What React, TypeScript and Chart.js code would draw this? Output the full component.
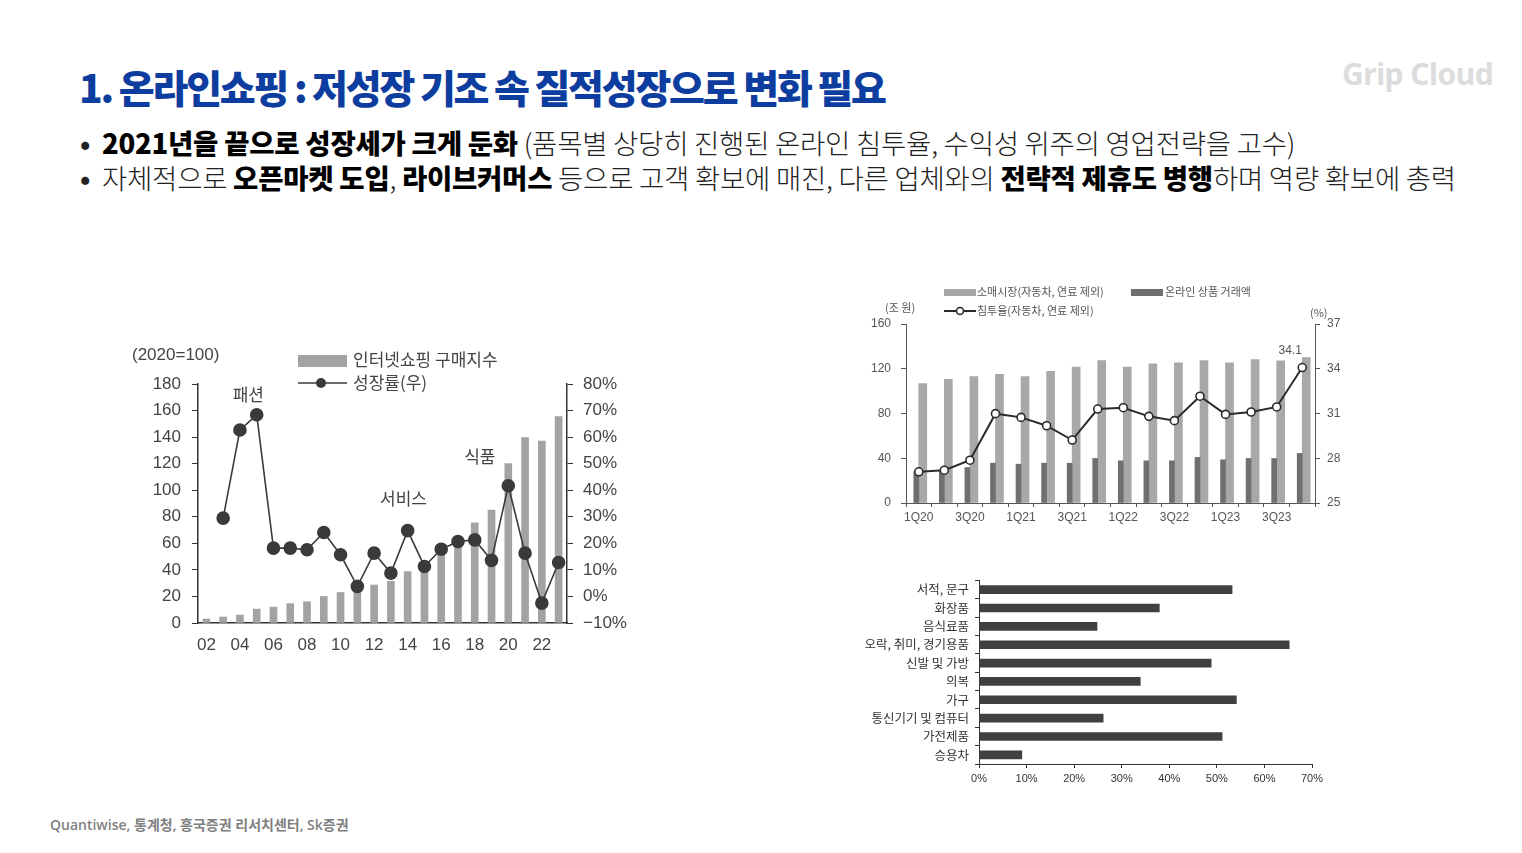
import React, { useEffect, useRef } from "react";
import { Chart, registerables } from "chart.js";
Chart.register(...registerables);

const NUM_FONT = "'Liberation Sans', 'Noto Sans CJK KR', sans-serif";
const KR_FONT = "'Noto Sans CJK KR', 'Liberation Sans', sans-serif";

// ---------- Chart 1: 인터넷쇼핑 구매지수 ----------
const yearLabels = ["02", "03", "04", "05", "06", "07", "08", "09", "10", "11", "12", "13", "14", "15", "16", "17", "18", "19", "20", "21", "22", "23"];
const shoppingIndex = [3, 4.5, 6, 10.5, 12, 14.6, 16, 20, 23, 25, 28.6, 31.4, 38.7, 42, 52, 61, 75.4, 85, 120, 139.7, 137, 155.5];
const shoppingGrowth = [null, 29.5, 62.7, 68.4, 18.2, 18.2, 17.6, 24.1, 15.7, 3.8, 16.3, 8.8, 24.8, 11.3, 17.8, 20.7, 21.3, 13.6, 41.7, 16.3, -2.5, 12.8];
const chart1Legend = ["인터넷쇼핑 구매지수", "성장률(우)"];
const chart1Unit = "(2020=100)";
const chart1Notes = ["패션", "서비스", "식품"];
const chart1NoteIdx = [2.5, 11.75, 16.3];
const chart1NoteVal = [172, 94, 125];

// ---------- Chart 2: 분기별 소매시장 / 온라인 ----------
const quarterLabels = ["1Q20", "2Q20", "3Q20", "4Q20", "1Q21", "2Q21", "3Q21", "4Q21", "1Q22", "2Q22", "3Q22", "4Q22", "1Q23", "2Q23", "3Q23", "4Q23"];
const retailMarket = [106.8, 110.6, 113, 115, 113, 117.8, 121.4, 127.4, 121.4, 124.4, 125.3, 127.4, 125.3, 128.3, 127, 130];
const onlineSales = [28, 29, 31.7, 35.6, 34.7, 35.6, 35.6, 39.8, 37.7, 37.7, 37.7, 40.7, 38.6, 39.8, 39.8, 44.3];
const penetration = [27.09, 27.2, 27.87, 30.99, 30.74, 30.18, 29.22, 31.3, 31.39, 30.81, 30.52, 32.16, 30.94, 31.1, 31.44, 34.08];
const chart2Legend = ["소매시장(자동차, 연료 제외)", "온라인 상품 거래액", "침투율(자동차, 연료 제외)"];
const chart2Units = ["(조 원)", "(%)"];
const chart2LastLabel = "34.1";

// ---------- Chart 3: 품목별 온라인 침투율 ----------
const itemLabels = ["서적, 문구", "화장품", "음식료품", "오락, 취미, 경기용품", "신발 및 가방", "의복", "가구", "통신기기 및 컴퓨터", "가전제품", "승용차"];
const itemPenetration = [53.2, 37.9, 24.8, 65.2, 48.8, 33.9, 54.1, 26.1, 51.1, 9.0];

function useChart(ref: React.RefObject<HTMLCanvasElement | null>, make: () => any) {
  useEffect(() => {
    if (!ref.current) return;
    const chart = new Chart(ref.current, make());
    return () => chart.destroy();
  }, []);
}

function ChartOne() {
  const ref = useRef<HTMLCanvasElement>(null);
  useChart(ref, () => ({
    type: "bar",
    data: {
      labels: yearLabels,
      datasets: [
        {
          type: "line",
          data: shoppingGrowth,
          yAxisID: "y1",
          borderColor: "#3a3a3a",
          borderWidth: 1.6,
          pointRadius: 6,
          pointBackgroundColor: "#3a3a3a",
          pointBorderColor: "#3a3a3a",
          tension: 0,
          order: 0,
        },
        {
          type: "bar",
          data: shoppingIndex,
          yAxisID: "y",
          backgroundColor: "#a3a3a3",
          barThickness: 7,
          order: 1,
        },
      ],
    },
    options: {
      responsive: false,
      maintainAspectRatio: false,
      animation: false,
      layout: { padding: { top: 44, bottom: 7, left: 0, right: 0 } },
      plugins: { legend: { display: false }, tooltip: { enabled: false } },
      scales: {
        x: {
          grid: { display: false, drawTicks: false },
          border: { color: "#333", width: 1.5 },
          ticks: {
            autoSkip: false,
            maxRotation: 0,
            padding: 12,
            color: "#444",
            font: { family: NUM_FONT, size: 17 },
            callback: (v: any, i: number) => (i % 2 === 0 ? yearLabels[i] : ""),
          },
          afterFit: (s: any) => { s.height = 40; },
        },
        y: {
          position: "left",
          min: 0,
          max: 180,
          grid: { drawOnChartArea: false, tickLength: 6, color: "#333" },
          border: { color: "#333", width: 1.5 },
          ticks: { stepSize: 20, padding: 11, color: "#444", font: { family: NUM_FONT, size: 17 } },
          afterFit: (s: any) => { s.width = 78; },
        },
        y1: {
          position: "right",
          min: -10,
          max: 80,
          grid: { drawOnChartArea: false, tickLength: 6, color: "#333" },
          border: { color: "#333", width: 1.5 },
          ticks: {
            stepSize: 10,
            padding: 10,
            color: "#444",
            font: { family: NUM_FONT, size: 17 },
            callback: (v: any) => (v < 0 ? "\u2212" + Math.abs(v) : v) + "%",
          },
          afterFit: (s: any) => { s.width = 73; },
        },
      },
    },
    plugins: [
      {
        id: "overlay1",
        afterDraw(chart: any) {
          const ctx = chart.ctx;
          const xs = chart.scales.x;
          const ys = chart.scales.y;
          ctx.save();
          ctx.fillStyle = "#444";
          ctx.textBaseline = "middle";
          ctx.font = `17px ${NUM_FONT}`;
          ctx.textAlign = "left";
          ctx.fillText(chart1Unit, 12, 15);
          // legend
          ctx.fillStyle = "#a3a3a3";
          ctx.fillRect(178, 15, 49, 12);
          ctx.strokeStyle = "#3a3a3a";
          ctx.lineWidth = 1.6;
          ctx.beginPath();
          ctx.moveTo(178, 43);
          ctx.lineTo(227, 43);
          ctx.stroke();
          ctx.fillStyle = "#3a3a3a";
          ctx.beginPath();
          ctx.arc(201, 43, 5, 0, Math.PI * 2);
          ctx.fill();
          ctx.fillStyle = "#444";
          ctx.font = `17px ${KR_FONT}`;
          ctx.fillText(chart1Legend[0], 233, 20);
          ctx.fillText(chart1Legend[1], 233, 43);
          // notes
          ctx.textAlign = "center";
          chart1Notes.forEach((t, i) => {
            ctx.fillText(t, xs.getPixelForValue(chart1NoteIdx[i]), ys.getPixelForValue(chart1NoteVal[i]));
          });
          ctx.restore();
        },
      },
    ],
  }));
  return <canvas ref={ref} width={520} height={330} style={{ position: "absolute", left: 120, top: 340, width: 520, height: 330 }} />;
}

function ChartTwo() {
  const ref = useRef<HTMLCanvasElement>(null);
  useChart(ref, () => ({
    type: "bar",
    data: {
      labels: quarterLabels,
      datasets: [
        {
          type: "line",
          data: penetration,
          yAxisID: "y1",
          borderColor: "#2b2b2b",
          borderWidth: 2,
          pointRadius: 4,
          pointBackgroundColor: "#ffffff",
          pointBorderColor: "#2b2b2b",
          pointBorderWidth: 1.6,
          tension: 0,
          order: 0,
        },
        { type: "bar", data: retailMarket, yAxisID: "y", backgroundColor: "#a8a8a8", barThickness: 8, order: 2 },
        { type: "bar", data: onlineSales, yAxisID: "y", backgroundColor: "#6f6f6f", barThickness: 5, order: 1 },
      ],
    },
    options: {
      responsive: false,
      maintainAspectRatio: false,
      animation: false,
      layout: { padding: { top: 44, bottom: 0, left: 0, right: 0 } },
      plugins: { legend: { display: false }, tooltip: { enabled: false } },
      scales: {
        x: {
          grid: { drawOnChartArea: false, tickLength: 4, color: "#555" },
          border: { color: "#555", width: 1 },
          ticks: {
            autoSkip: false,
            maxRotation: 0,
            padding: 3,
            color: "#555",
            font: { family: NUM_FONT, size: 12 },
            callback: (v: any, i: number) => (i % 2 === 0 ? quarterLabels[i] : ""),
          },
          afterFit: (s: any) => { s.height = 27; },
        },
        y: {
          position: "left",
          min: 0,
          max: 160,
          grid: { drawOnChartArea: false, tickLength: 5, color: "#555" },
          border: { color: "#555", width: 1 },
          ticks: { stepSize: 40, padding: 10, color: "#555", font: { family: NUM_FONT, size: 12 } },
          afterFit: (s: any) => { s.width = 46; },
        },
        y1: {
          position: "right",
          min: 25,
          max: 37,
          grid: { drawOnChartArea: false, tickLength: 5, color: "#555" },
          border: { color: "#555", width: 1 },
          ticks: { stepSize: 3, padding: 7, color: "#555", font: { family: NUM_FONT, size: 12 } },
          afterFit: (s: any) => { s.width = 30; },
        },
      },
    },
    plugins: [
      {
        id: "overlay2",
        afterDraw(chart: any) {
          const ctx = chart.ctx;
          ctx.save();
          ctx.textBaseline = "middle";
          ctx.textAlign = "left";
          // legend swatches
          ctx.fillStyle = "#a8a8a8";
          ctx.fillRect(84, 9, 32, 7);
          ctx.fillStyle = "#6f6f6f";
          ctx.fillRect(271, 9, 32, 7);
          ctx.strokeStyle = "#2b2b2b";
          ctx.lineWidth = 2;
          ctx.beginPath();
          ctx.moveTo(84, 31);
          ctx.lineTo(116, 31);
          ctx.stroke();
          ctx.fillStyle = "#fff";
          ctx.lineWidth = 1.6;
          ctx.beginPath();
          ctx.arc(100, 31, 3.5, 0, Math.PI * 2);
          ctx.fill();
          ctx.stroke();
          ctx.fillStyle = "#555";
          ctx.font = `11px ${KR_FONT}`;
          ctx.fillText(chart2Legend[0], 117, 12);
          ctx.fillText(chart2Legend[1], 305, 12);
          ctx.fillText(chart2Legend[2], 117, 31);
          ctx.fillText(chart2Units[0], 25, 28);
          ctx.fillText(chart2Units[1], 450, 33);
          // last value label
          const meta = chart.getDatasetMeta(0);
          const last = meta.data[meta.data.length - 1];
          ctx.textAlign = "center";
          ctx.font = `12px ${NUM_FONT}`;
          ctx.fillText(chart2LastLabel, last.x - 12, last.y - 17);
          ctx.restore();
        },
      },
    ],
  }));
  return <canvas ref={ref} width={485} height={250} style={{ position: "absolute", left: 860, top: 280, width: 485, height: 250 }} />;
}

function ChartThree() {
  const ref = useRef<HTMLCanvasElement>(null);
  useChart(ref, () => ({
    type: "bar",
    data: {
      labels: itemLabels,
      datasets: [{ data: itemPenetration, backgroundColor: "#404040", barThickness: 8 }],
    },
    options: {
      indexAxis: "y",
      responsive: false,
      maintainAspectRatio: false,
      animation: false,
      layout: { padding: { top: 5, bottom: 0, left: 0, right: 28 } },
      plugins: { legend: { display: false }, tooltip: { enabled: false } },
      scales: {
        x: {
          min: 0,
          max: 70,
          grid: { drawOnChartArea: false, tickLength: 4, color: "#333" },
          border: { color: "#333", width: 1 },
          ticks: {
            stepSize: 10,
            padding: 4,
            color: "#333",
            font: { family: NUM_FONT, size: 11 },
            callback: (v: any) => v + "%",
          },
          afterFit: (s: any) => { s.height = 27; },
        },
        y: {
          grid: { drawOnChartArea: false, tickLength: 4, color: "#333" },
          border: { color: "#333", width: 1 },
          ticks: { autoSkip: false, padding: 6, color: "#333", font: { family: KR_FONT, size: 12.5 } },
          afterFit: (s: any) => { s.width = 129; },
        },
      },
    },
  }));
  return <canvas ref={ref} width={490} height={224} style={{ position: "absolute", left: 850, top: 567, width: 490, height: 224 }} />;
}

const B = (p: { children: React.ReactNode }) => <span style={{ fontWeight: 900, color: "#000" }}>{p.children}</span>;

export default function App() {
  return (
    <div style={{ position: "absolute", left: 0, top: 0, width: 1522, height: 853, overflow: "hidden", background: "#fff", fontFamily: KR_FONT }}>
      <div style={{ position: "absolute", left: 79, top: 60, fontSize: 39, fontWeight: 900, color: "#0d3d9e", letterSpacing: -2.2, whiteSpace: "nowrap", lineHeight: "52px" }}>
        1. 온라인쇼핑 : 저성장 기조 속 질적성장으로 변화 필요
      </div>
      <div style={{ position: "absolute", left: 1342, top: 54, fontSize: 30, fontWeight: 700, color: "#dcdcdc", fontFamily: "'Noto Sans', sans-serif", letterSpacing: -0.5, whiteSpace: "nowrap", lineHeight: "40px" }}>
        Grip Cloud
      </div>
      <div style={{ position: "absolute", left: 80, top: 125, fontSize: 27.5, fontWeight: 300, color: "#222", lineHeight: "35px", whiteSpace: "nowrap", letterSpacing: -0.25 }}>
        <div>
          <span style={{ display: "inline-block", width: 22, fontWeight: 700 }}>•</span>
          <B>2021년을 끝으로 성장세가 크게 둔화</B> (품목별 상당히 진행된 온라인 침투율, 수익성 위주의 영업전략을 고수)
        </div>
        <div>
          <span style={{ display: "inline-block", width: 22, fontWeight: 700 }}>•</span>
          자체적으로 <B>오픈마켓 도입</B>, <B>라이브커머스</B> 등으로 고객 확보에 매진, 다른 업체와의 <B>전략적 제휴도 병행</B>하며 역량 확보에 총력
        </div>
      </div>
      <ChartOne />
      <ChartTwo />
      <ChartThree />
      <div style={{ position: "absolute", left: 50, top: 815, fontSize: 14, fontWeight: 600, color: "#7f7f7f", fontFamily: "'Open Sans', 'Noto Sans CJK KR', sans-serif", whiteSpace: "nowrap", lineHeight: "20px" }}>
        Quantiwise, 통계청, 흥국증권 리서치센터, Sk증권
      </div>
    </div>
  );
}
